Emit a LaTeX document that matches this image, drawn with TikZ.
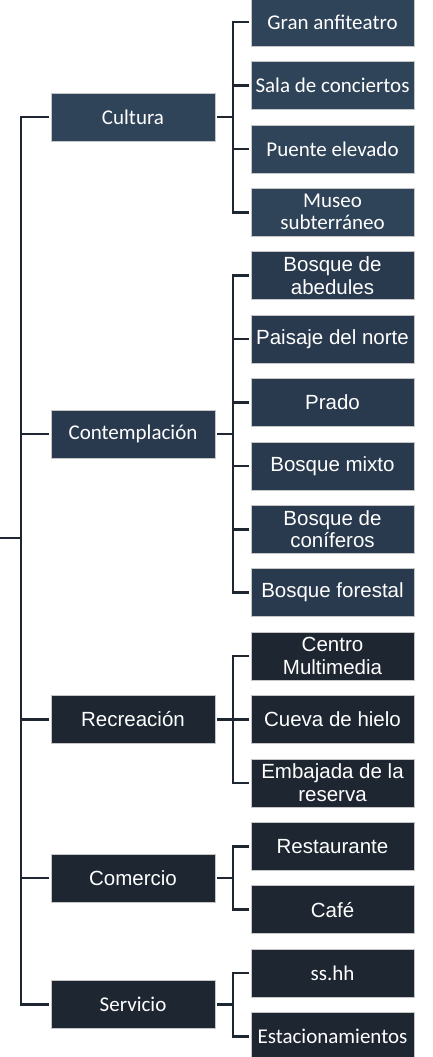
\documentclass[tikz,border=0pt]{standalone}
\usepackage{fontspec}
\newfontfamily\calfont{Carlito}
\newfontfamily\arifont{Liberation Sans}
\usepackage{xcolor}
\usepackage{tikz}
\usetikzlibrary{positioning,calc}

\definecolor{slateA}{HTML}{2F4359}
\definecolor{slateB}{HTML}{2A3A4E}
\definecolor{slateC}{HTML}{1D2631}
\definecolor{linecol}{HTML}{1D2631}

\tikzset{
  box/.style={draw=gray!45,line width=0.5pt,text=white,align=center,
    minimum height=48pt,inner sep=1pt,outer sep=2pt},
  cat/.style={box,minimum width=164pt},
  item/.style={box,minimum width=163pt},
  cal/.style={font=\calfont\fontsize{21}{22}\selectfont},
  ari/.style={font=\arifont\fontsize{20.5}{22.5}\selectfont},
  link/.style={draw=linecol,line width=2.6pt}
}

\begin{document}
\begin{tikzpicture}[node distance=11.4pt]
\useasboundingbox (0,0) rectangle (433pt,-1057pt);

% right column
\node[item,cal,fill=slateA] (gran) at (332.5pt,-22pt) {Gran anfiteatro};
\node[item,cal,fill=slateA,below=of gran] (sala) {Sala de conciertos};
\node[item,cal,fill=slateA,below=of sala] (puente) {Puente elevado};
\node[item,cal,fill=slateA,below=of puente] (museo) {Museo\\subterráneo};
\node[item,ari,fill=slateB,below=of museo] (abedul) {Bosque de\\abedules};
\node[item,ari,fill=slateB,below=of abedul] (paisaje) {Paisaje del norte};
\node[item,ari,fill=slateB,below=of paisaje] (prado) {Prado};
\node[item,ari,fill=slateB,below=of prado] (mixto) {Bosque mixto};
\node[item,ari,fill=slateB,below=of mixto] (conif) {Bosque de\\coníferos};
\node[item,ari,fill=slateB,below=of conif] (forestal) {Bosque forestal};
\node[item,ari,fill=slateC,below=of forestal] (centro) {Centro\\Multimedia};
\node[item,ari,fill=slateC,below=of centro] (cueva) {Cueva de hielo};
\node[item,ari,fill=slateC,below=of cueva] (embajada) {Embajada de la\\reserva};
\node[item,ari,fill=slateC,below=of embajada] (resto) {Restaurante};
\node[item,ari,fill=slateC,below=of resto] (cafe) {Café};
\node[item,cal,fill=slateC,below=of cafe] (sshh) {ss.hh};
\node[item,cal,fill=slateC,below=of sshh] (estac) {Estacionamientos};

% middle column
\node[cat,cal,fill=slateA] (cultura) at ($(gran)!0.5!(museo)+(-199.5pt,0)$) {Cultura};
\node[cat,cal,fill=slateB] (contemp) at ($(abedul)!0.5!(forestal)+(-199.5pt,0)$) {Contemplación};
\node[cat,ari,fill=slateC] (recrea) at ($(centro)!0.5!(embajada)+(-199.5pt,0)$) {Recreación};
\node[cat,ari,fill=slateC] (comercio) at ($(resto)!0.5!(cafe)+(-199.5pt,0)$) {Comercio};
\node[cat,cal,fill=slateC] (servicio) at ($(sshh)!0.5!(estac)+(-199.5pt,0)$) {Servicio};

% root trunk
\coordinate (root) at (0,-538pt);
\coordinate (trunk) at (21pt,-538pt);
\draw[link] (root) -- (trunk);
\draw[link] (cultura.west) -| (trunk) |- (servicio.west);
\draw[link] (contemp.west) -- (contemp.west -| trunk);
\draw[link] (recrea.west) -- (recrea.west -| trunk);
\draw[link] (comercio.west) -- (comercio.west -| trunk);

% brackets
\coordinate (s1) at ([xshift=16pt]cultura.east);
\draw[link] (cultura.east) -- (s1);
\draw[link] (gran.west) -| (s1) |- (museo.west);
\draw[link] (sala.west) -- (sala.west -| s1);
\draw[link] (puente.west) -- (puente.west -| s1);

\coordinate (s2) at ([xshift=16pt]contemp.east);
\draw[link] (contemp.east) -- (s2);
\draw[link] (abedul.west) -| (s2) |- (forestal.west);
\draw[link] (paisaje.west) -- (paisaje.west -| s2);
\draw[link] (prado.west) -- (prado.west -| s2);
\draw[link] (mixto.west) -- (mixto.west -| s2);
\draw[link] (conif.west) -- (conif.west -| s2);

\coordinate (s3) at ([xshift=16pt]recrea.east);
\draw[link] (recrea.east) -- (s3);
\draw[link] (centro.west) -| (s3) |- (embajada.west);
\draw[link] (cueva.west) -- (cueva.west -| s3);

\coordinate (s4) at ([xshift=16pt]comercio.east);
\draw[link] (comercio.east) -- (s4);
\draw[link] (resto.west) -| (s4) |- (cafe.west);

\coordinate (s5) at ([xshift=16pt]servicio.east);
\draw[link] (servicio.east) -- (s5);
\draw[link] (sshh.west) -| (s5) |- (estac.west);
\end{tikzpicture}
\end{document}
